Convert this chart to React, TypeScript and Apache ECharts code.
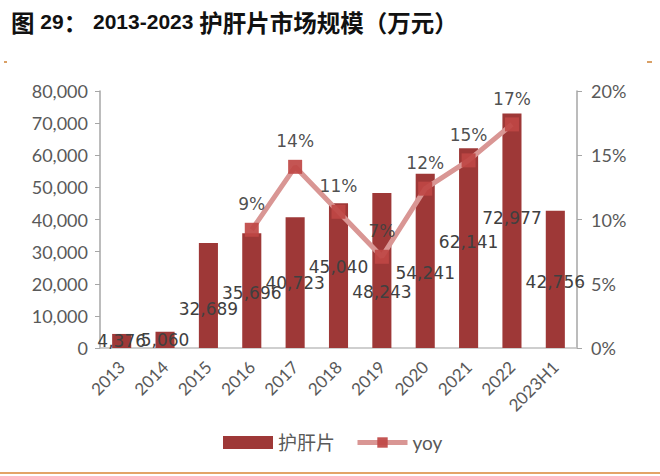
import React, { useEffect, useRef } from "react";
import * as echarts from "echarts";

const categories = ["2013", "2014", "2015", "2016", "2017", "2018", "2019", "2020", "2021", "2022", "2023H1"];
const marketSize = [4376, 5060, 32689, 35696, 40723, 45040, 48243, 54241, 62141, 72977, 42756];
const yoy = [null, null, null, 0.092, 0.141, 0.106, 0.071, 0.124, 0.146, 0.174, null];
const leftTicks = { min: 0, max: 80000, interval: 10000 };
const rightTicks = { min: 0, max: 0.2, interval: 0.05 };
// style-only vertical nudges of the bar value labels (px)
const barLabelDy = [0, 0, 14, 2, 0, -9, 21, 12, -6, -13, 3];

const TITLE_RICH = "{c|图} {n|29}{c|：} {n|2013-2023} {c|护肝片市场规模（万元）}";

export default function App() {
  const ref = useRef<HTMLDivElement>(null);
  useEffect(() => {
    if (!ref.current) return;
    const chart = echarts.init(ref.current, null, { renderer: "svg" });
    const axisFont = "Lato, 'Liberation Sans', sans-serif";
    const labelFont = "'DejaVu Sans', sans-serif";
    chart.setOption({
      animation: false,
      backgroundColor: "#ffffff",
      title: {
        text: TITLE_RICH,
        left: 6,
        top: 5,
        textStyle: {
          fontFamily: "'Liberation Sans', 'Noto Sans CJK SC', sans-serif",
          fontWeight: "bold",
          fontSize: 21,
          color: "#111111",
          rich: {
            c: {
              fontFamily: "'Noto Sans CJK SC', sans-serif",
              fontWeight: "bold",
              fontSize: 23.5,
              color: "#111111",
            },
            n: {
              fontFamily: "'Liberation Sans', sans-serif",
              fontWeight: "bold",
              fontSize: 21,
              color: "#111111",
            },
          },
        },
      },
      graphic: [
        { type: "line", shape: { x1: 4, y1: 62, x2: 7, y2: 62 }, style: { stroke: "#d9a066", lineWidth: 2 } },
        { type: "line", shape: { x1: 647, y1: 62, x2: 652, y2: 62 }, style: { stroke: "#d9a066", lineWidth: 2 } },
        { type: "line", shape: { x1: 0, y1: 473, x2: 660, y2: 473 }, style: { stroke: "#e3a468", lineWidth: 2 } },
      ],
      legend: {
        left: 218,
        top: 428,
        itemWidth: 50,
        itemHeight: 13,
        itemGap: 20,
        textStyle: { fontFamily: "Lato, 'Noto Sans CJK SC', sans-serif", fontSize: 19, color: "#595959" },
        data: [
          { name: "护肝片", icon: "rect" },
          {
            name: "yoy",
            lineStyle: { width: 5, color: "#d99694" },
            itemStyle: { color: "#bf4644" },
          },
        ],
      },
      grid: { left: 100, right: 83, top: 91, bottom: 128, containLabel: false },
      xAxis: {
        type: "category",
        data: categories,
        axisLine: { lineStyle: { color: "#bfbfbf", width: 1.5 } },
        axisTick: { show: false },
        axisLabel: {
          rotate: 45,
          interval: 0,
          margin: 16,
          fontFamily: axisFont,
          fontSize: 17,
          color: "#595959",
        },
      },
      yAxis: [
        {
          type: "value",
          min: leftTicks.min,
          max: leftTicks.max,
          interval: leftTicks.interval,
          splitLine: { show: false },
          axisLine: { show: true, lineStyle: { color: "#a6a6a6", width: 1.5 } },
          axisTick: { show: true, length: 5, lineStyle: { color: "#a6a6a6" } },
          axisLabel: {
            margin: 12,
            fontFamily: axisFont,
            fontSize: 18,
            color: "#595959",
            formatter: (v: number) => v.toLocaleString("en-US"),
          },
        },
        {
          type: "value",
          min: rightTicks.min,
          max: rightTicks.max,
          interval: rightTicks.interval,
          splitLine: { show: false },
          axisLine: { show: true, lineStyle: { color: "#a6a6a6", width: 1.5 } },
          axisTick: { show: true, length: 5, lineStyle: { color: "#a6a6a6" } },
          axisLabel: {
            margin: 14,
            fontFamily: axisFont,
            fontSize: 18,
            color: "#595959",
            formatter: (v: number) => Math.round(v * 100) + "%",
          },
        },
      ],
      series: [
        {
          name: "护肝片",
          type: "bar",
          yAxisIndex: 0,
          barWidth: "44%",
          itemStyle: { color: "#9e3837" },
          data: marketSize.map((v, i) => ({
            value: v,
            label: { offset: [0, barLabelDy[i]] },
          })),
          label: {
            show: true,
            position: "inside",
            fontFamily: labelFont,
            fontSize: 17,
            color: "#404040",
            formatter: (p: any) => Number(p.value).toLocaleString("en-US"),
          },
          z: 2,
        },
        {
          name: "yoy",
          type: "line",
          yAxisIndex: 1,
          data: yoy,
          connectNulls: false,
          symbol: "rect",
          symbolSize: 14,
          lineStyle: { color: "#d99694", width: 5 },
          itemStyle: { color: "#bf4644", opacity: 0.92 },
          label: {
            show: true,
            position: "top",
            distance: 10,
            fontFamily: labelFont,
            fontSize: 17,
            color: "#404040",
            formatter: (p: any) => (p.value == null ? "" : Math.round(p.value * 100) + "%"),
          },
          z: 3,
        },
      ],
    });
    return () => chart.dispose();
  }, []);
  return (
    <div
      ref={ref}
      style={{ position: "fixed", left: 0, top: 0, width: 660, height: 476, background: "#fff" }}
    />
  );
}
